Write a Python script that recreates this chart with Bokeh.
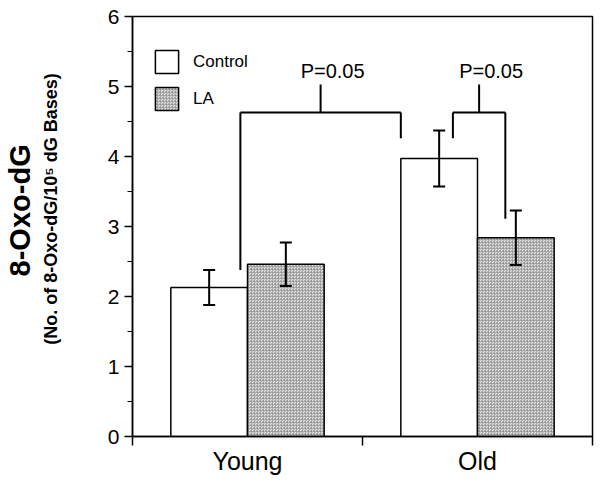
from bokeh.plotting import figure
from bokeh.models import (Range1d, FixedTicker, LinearAxis, Legend, LegendItem,
                          ColumnDataSource, Whisker, TeeHead)
from bokeh.core.properties import value
from bokeh.embed import file_html
from bokeh.resources import INLINE

# ---- data ----
categories = ["Young", "Old"]
control_mean = [2.13, 3.97]
control_err = [0.25, 0.40]
la_mean = [2.46, 2.84]
la_err = [0.31, 0.39]
p_labels = ["P=0.05", "P=0.05"]
y_ticks = [0, 1, 2, 3, 4, 5, 6]

FONT = value("Liberation Sans")
BAR_W = 1.0 / 3.0
NB = "\u00a0"

centers = [i + 0.5 for i in range(len(categories))]
ctrl_x = [c - BAR_W / 2 for c in centers]
la_x = [c + BAR_W / 2 for c in centers]

p = figure(frame_width=460, frame_height=420, x_range=Range1d(0, 2), y_range=Range1d(0, 6),
           output_backend="svg", toolbar_location=None,
           min_border_left=10, min_border_right=5, min_border_top=16, min_border_bottom=5)
p.xgrid.visible = False
p.ygrid.visible = False
p.outline_line_color = "black"
p.outline_line_width = 1.5

src_c = ColumnDataSource(dict(x=ctrl_x, top=control_mean,
                              up=[m + e for m, e in zip(control_mean, control_err)],
                              lo=[m - e for m, e in zip(control_mean, control_err)]))
src_l = ColumnDataSource(dict(x=la_x, top=la_mean,
                              up=[m + e for m, e in zip(la_mean, la_err)],
                              lo=[m - e for m, e in zip(la_mean, la_err)]))

r_c = p.vbar(x="x", top="top", width=BAR_W, source=src_c, fill_color="white",
             line_color="black", line_width=1.5)
r_l = p.vbar(x="x", top="top", width=BAR_W, source=src_l, fill_color="#e6e6e6",
             line_color="black", line_width=1.5, hatch_pattern="criss_cross",
             hatch_color="#8a8a8a", hatch_scale=3, hatch_weight=0.7, hatch_alpha=0.8)

for s in (src_c, src_l):
    w = Whisker(base="x", upper="up", lower="lo", source=s, line_color="black", line_width=2,
                level="annotation",
                upper_head=TeeHead(size=12, line_width=2, line_color="black"),
                lower_head=TeeHead(size=12, line_width=2, line_color="black"))
    p.add_layout(w)

# ---- significance brackets ----
top_y = 4.63
stem_y = 5.03
short_y = 4.26
b1_left = 0.469
b1_right = ctrl_x[1] - BAR_W / 2
b2_left = 1.393
b2_right = 1.621
b1_mid = (b1_left + b1_right) / 2
b2_mid = (b2_left + b2_right) / 2

seg_x0 = [b1_left, b1_left, b1_right, b1_mid, b2_left, b2_left, b2_right, b2_mid]
seg_y0 = [control_mean[0] + control_err[0], top_y, top_y, top_y,
          short_y, top_y, top_y, top_y]
seg_x1 = [b1_left, b1_right, b1_right, b1_mid, b2_left, b2_right, b2_right, b2_mid]
seg_y1 = [top_y, top_y, short_y, stem_y, top_y, top_y, 3.11, stem_y]
p.segment(seg_x0, seg_y0, seg_x1, seg_y1, line_color="black", line_width=2)

p.text(x=[b1_mid, b2_mid], y=[5.22, 5.22], text=p_labels, text_font=FONT,
       text_font_size="20px", text_align="center", text_baseline="middle",
       x_offset=12, text_color="black")

# ---- axes ----
xa = p.xaxis[0]
xa.ticker = FixedTicker(ticks=centers, minor_ticks=[0, 1, 2])
xa.major_label_overrides = {c: n for c, n in zip(centers, categories)}
xa.major_tick_out = 0
xa.major_tick_in = 0
xa.minor_tick_out = 9
xa.minor_tick_in = 0
xa.minor_tick_line_width = 1.5
xa.axis_line_width = 1.5
xa.major_label_text_font = "Liberation Sans"
xa.major_label_text_font_size = "25px"
xa.major_label_text_color = "black"
xa.major_label_standoff = 1

ya = p.yaxis[0]
ya.ticker = FixedTicker(ticks=y_ticks, minor_ticks=[t + 0.5 for t in y_ticks[:-1]])
ya.major_tick_out = 8
ya.major_tick_in = 0
ya.minor_tick_out = 5
ya.minor_tick_in = 0
ya.major_tick_line_width = 1.5
ya.axis_line_width = 1.5
ya.major_label_text_font = "Liberation Sans"
ya.major_label_text_font_size = "21px"
ya.major_label_text_color = "black"
ya.major_label_standoff = 5
ya.axis_label = NB * 7 + "(No. of 8-Oxo-dG/10\u2075 dG Bases)"
ya.axis_label_text_font = "Liberation Sans"
ya.axis_label_text_font_size = "18px"
ya.axis_label_text_font_style = "bold"
ya.axis_label_text_color = "black"
ya.axis_label_standoff = 44

ya2 = LinearAxis(ticker=FixedTicker(ticks=[]), axis_line_color=None,
                 major_tick_line_color=None, minor_tick_line_color=None,
                 axis_label=NB * 4 + "8-Oxo-dG", axis_label_text_font="Liberation Sans",
                 axis_label_text_font_size="29px", axis_label_text_font_style="bold",
                 axis_label_text_color="black", axis_label_standoff=2)
p.add_layout(ya2, "left")

legend = Legend(items=[LegendItem(label="Control", renderers=[r_c]),
                       LegendItem(label="LA", renderers=[r_l])],
                location=(20, 323), glyph_width=29, glyph_height=29, spacing=8,
                label_standoff=12, padding=0, margin=0, border_line_alpha=0,
                background_fill_alpha=0, label_text_font="Liberation Sans",
                label_text_font_size="17px", label_height=29, label_text_color="black")
p.add_layout(legend, "center")

open("out.html", "w").write(file_html(p, INLINE))
